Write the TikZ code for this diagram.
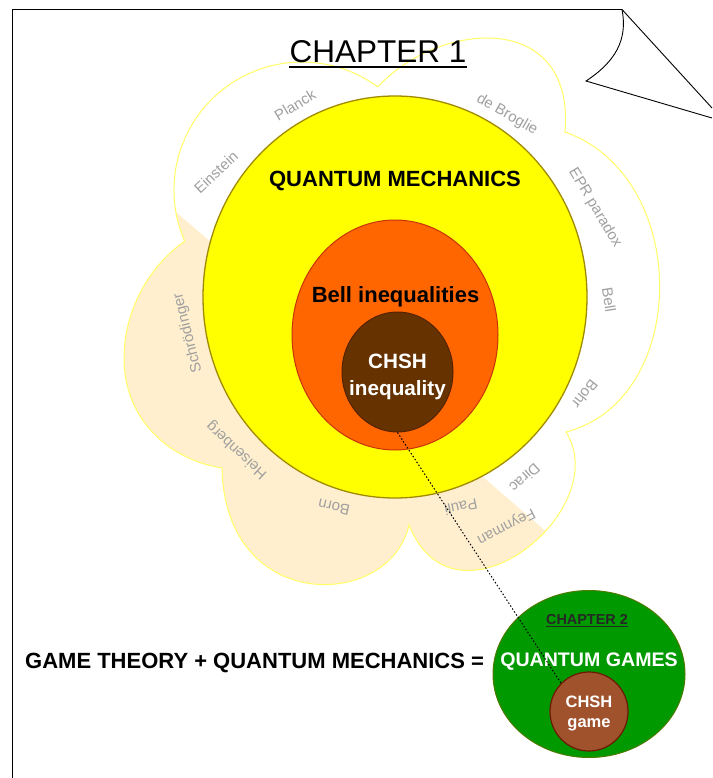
\documentclass[tikz,border=0pt]{standalone}
\usepackage{fontspec}
\setmainfont{Liberation Sans}
\usetikzlibrary{shapes.geometric}
\definecolor{qmyellow}{HTML}{FFFF00}
\definecolor{qmborder}{HTML}{A08A00}
\definecolor{bellorange}{HTML}{FF6600}
\definecolor{bellborder}{HTML}{C8330A}
\definecolor{chshbrown}{HTML}{663300}
\definecolor{chshborder}{HTML}{552200}
\definecolor{gamegreen}{HTML}{009900}
\definecolor{greenborder}{HTML}{4E7A00}
\definecolor{gamesienna}{HTML}{A0522D}
\definecolor{siennaborder}{HTML}{6B1A00}
\definecolor{cloudpeach}{HTML}{FFEFCE}
\definecolor{cloudline}{HTML}{FFFF66}
\definecolor{namegray}{HTML}{A0A0A0}
\begin{document}
\begin{tikzpicture}[x=1pt,y=-1pt,
  cloudpath/.style={insert path={(184.7,241.3) arc[start angle=156.4,end angle=306.3,radius=128]
    .. controls (440,20) and (575,10) .. (565,132)
    .. controls (692,177) and (690,400) .. (566,432)
    .. controls (615,510) and (455,640) .. (409,525)
    .. controls (390,610) and (225,615) .. (222,468)
    .. controls (170,460) and (124,420) .. (124,358)
    .. controls (124,310) and (150,265) .. (184.7,241.3) -- cycle}},
  blob/.style={ellipse,inner sep=0pt},
  bigtext/.style={font=\bfseries\fontsize{22}{24}\selectfont,inner sep=0pt,anchor=base},
  physname/.style={text=namegray,font=\fontsize{15}{15}\selectfont,inner sep=0pt},
  pageline/.style={draw=black,line width=0.9pt}]
\useasboundingbox (0,0) rectangle (712,778);

% page with folded corner
\coordinate (pbl) at (12,778);
\coordinate (ptl) at (12,9.5);
\coordinate (ptr) at (622,9.5);
\coordinate (pfold) at (586,81);
\coordinate (pdiag) at (712,108);
\coordinate (pbot) at (712,118);
\draw[pageline] (pbl) -- (ptl) -- (ptr);
\draw[pageline] (ptr) -- (pdiag);
\draw[pageline] (ptr) .. controls (628,40) and (615,62) .. (pfold) -- (pbot);

% cloud
\fill[white,cloudpath];
\begin{scope}
  \clip[cloudpath];
  \fill[cloudpeach] (0,60.2) -- (712,674.7) -- (712,778) -- (0,778) -- cycle;
\end{scope}
\draw[cloudline,line width=1pt,cloudpath];

% names
\node[physname,rotate=43] (n1) at (216,172) {Einstein};
\node[physname,rotate=30.6] (n2) at (295,105) {Planck};
\node[physname,rotate=-29.7] (n3) at (507,115) {de Broglie};
\node[physname,rotate=-59] (n4) at (595,208) {EPR paradox};
\node[physname,rotate=-81] (n5) at (609,300) {Bell};
\node[physname,rotate=-128] (n6) at (585,394) {Bohr};
\node[physname,rotate=-138] (n7) at (525,478) {Dirac};
\node[physname,rotate=-153] (n8) at (506,526) {Feynman};
\node[physname,rotate=-168] (n9) at (461,507) {Pauli};
\node[physname,rotate=168] (n10) at (334,507) {Born};
\node[physname,rotate=137] (n11) at (237,450) {Heisenberg};
\node[physname,rotate=104] (n12) at (188,333) {Schrödinger};

% nested sets
\node[blob,minimum width=384pt,minimum height=402pt,fill=qmyellow,draw=qmborder,line width=1.3pt] (qm) at (395,297) {};
\node[blob,minimum width=206pt,minimum height=230pt,fill=bellorange,draw=bellborder,line width=1pt] (bell) at (395,335) {};
\node[blob,minimum width=111pt,minimum height=120pt,fill=chshbrown,draw=chshborder,line width=1pt] (chsh) at (397.5,372) {};

\node[bigtext] (qmt) at (395,186) {QUANTUM MECHANICS};
\node[bigtext] (bellt) at (395.5,302) {Bell inequalities};
\node[inner sep=0pt,align=center,text=white,font=\bfseries\fontsize{20.7}{27}\selectfont] (chsht) at (397.5,377) {CHSH\\inequality};

% chapter 1 title
\node[inner sep=0pt,anchor=base,font=\fontsize{31.5}{34}\selectfont] (ch1) at (378,63) {CHAPTER 1};
\draw[line width=2pt] ([yshift=-3.7pt]ch1.base west) -- ([yshift=-3.7pt]ch1.base east);

% equation line
\node[bigtext,anchor=base west] (eq) at (25,668) {GAME THEORY + QUANTUM MECHANICS =};

% chapter 2
\node[blob,minimum width=192pt,minimum height=167pt,fill=gamegreen,draw=greenborder,line width=1pt] (qg) at (589,674) {};
\node[blob,minimum width=78pt,minimum height=79pt,fill=gamesienna,draw=siennaborder,line width=1.2pt] (game) at (589,711.5) {};
\node[inner sep=0pt,anchor=base,text=black!85,font=\bfseries\fontsize{14.4}{16}\selectfont] (ch2) at (587,624) {CHAPTER 2};
\draw[black!85,line width=1.2pt] ([yshift=-2.3pt]ch2.base west) -- ([yshift=-2.3pt]ch2.base east);
\node[inner sep=0pt,anchor=base,text=white,font=\bfseries\fontsize{19.6}{22}\selectfont] (qgt) at (589,666) {QUANTUM GAMES};
\node[inner sep=0pt,align=center,text=white,font=\bfseries\fontsize{16.5}{20}\selectfont] (gamet) at (589,713) {CHSH\\game};

% link
\draw[line width=1pt,dash pattern=on 1.5pt off 2pt] (chsh.south) -- (game.north west);
\end{tikzpicture}
\end{document}
